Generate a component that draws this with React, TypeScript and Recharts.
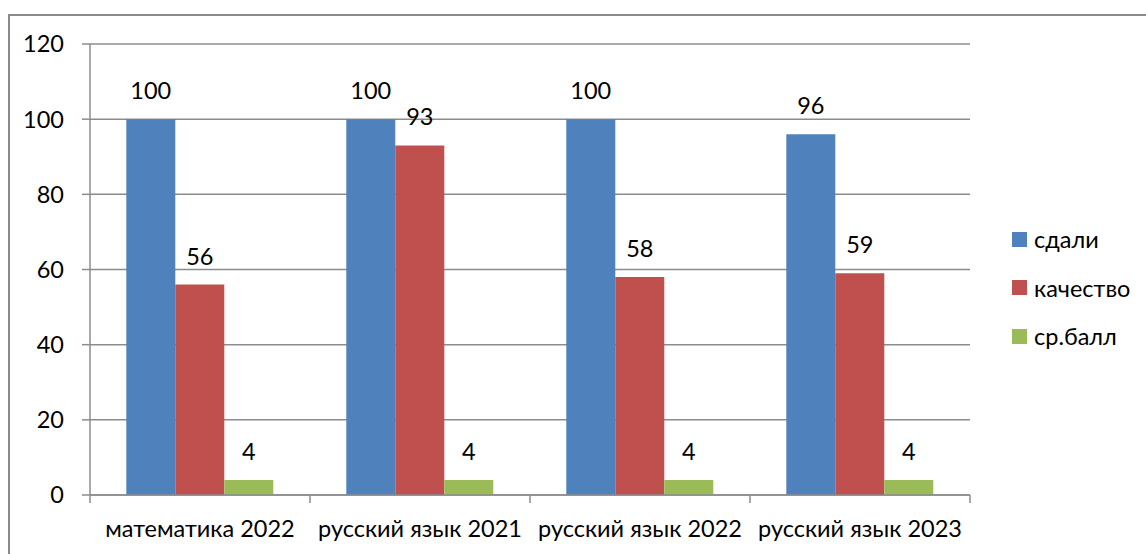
import React from "react";
import { BarChart, Bar, XAxis, YAxis, CartesianGrid, LabelList } from "recharts";

const CATEGORIES = ["математика 2022", "русский язык 2021", "русский язык 2022", "русский язык 2023"];
const PASSED = [100, 100, 100, 96];
const QUALITY = [56, 93, 58, 59];
const AVG = [4, 4, 4, 4];
const Y_TICKS = [0, 20, 40, 60, 80, 100, 120];

const SERIES = [
  { key: "passed", name: "сдали", color: "#4F81BD" },
  { key: "quality", name: "качество", color: "#C0504D" },
  { key: "avg", name: "ср.балл", color: "#9BBB59" },
];

const data = CATEGORIES.map((c, i) => ({ cat: c, passed: PASSED[i], quality: QUALITY[i], avg: AVG[i] }));

const FONT = "Lato, 'Open Sans', sans-serif";
const FS = 23.5;
const GRID = "#8C8C8C";
const TICK_SIZE = 8;
const TICK_MARGIN = 17;

// category label + tick marks on the category boundaries (Excel style)
function CatTick(props: any) {
  const { x, y, payload, index, visibleTicksCount } = props;
  const half = payload?.offset ?? 0;
  const ay = y - TICK_SIZE - TICK_MARGIN;
  return (
    <g>
      <line x1={x - half} x2={x - half} y1={ay} y2={ay + TICK_SIZE} stroke={GRID} strokeWidth={1.5} />
      {index === visibleTicksCount - 1 && (
        <line x1={x + half} x2={x + half} y1={ay} y2={ay + TICK_SIZE} stroke={GRID} strokeWidth={1.5} />
      )}
      <text x={x} y={y} dy="0.71em" textAnchor="middle" fill="#000" fontSize={FS} fontFamily={FONT}>
        {payload.value}
      </text>
    </g>
  );
}

function LegendBox() {
  return (
    <div style={{ position: "absolute", left: 1012, top: 215, fontFamily: FONT, fontSize: FS, color: "#000" }}>
      {SERIES.map((s) => (
        <div key={s.key} style={{ display: "flex", alignItems: "center", height: 48.5 }}>
          <span style={{ width: 15, height: 15, background: s.color, marginRight: 7, display: "inline-block" }} />
          <span>{s.name}</span>
        </div>
      ))}
    </div>
  );
}

export default function App() {
  return (
    <div style={{ position: "absolute", left: 0, top: 0, width: 1146, height: 554, background: "#fff", fontFamily: FONT }}>
      <div style={{ position: "absolute", left: 8, top: 14, right: 0, bottom: 0, borderTop: "2px solid #8a8a8a", borderLeft: "2px solid #8a8a8a" }} />
      <BarChart
        width={1146}
        height={554}
        data={data}
        margin={{ top: 44, right: 176, bottom: 0, left: 0 }}
        barCategoryGap="16.5%"
        barGap={0}
        style={{ position: "absolute", left: 0, top: 0 }}
      >
        <CartesianGrid vertical={false} stroke={GRID} strokeWidth={1.5} />
        <XAxis
          dataKey="cat"
          height={59}
          axisLine={{ stroke: GRID, strokeWidth: 1.5 }}
          tickLine={false}
          tickSize={TICK_SIZE}
          tickMargin={TICK_MARGIN}
          tick={<CatTick />}
          interval={0}
        />
        <YAxis
          width={90}
          domain={[0, 120]}
          ticks={Y_TICKS}
          axisLine={{ stroke: GRID, strokeWidth: 1.5 }}
          tickLine={{ stroke: GRID, strokeWidth: 1.5 }}
          tickSize={8}
          tickMargin={18}
          tick={{ fill: "#000", fontSize: FS, fontFamily: FONT }}
        />
        {SERIES.map((s) => (
          <Bar key={s.key} dataKey={s.key} name={s.name} fill={s.color} isAnimationActive={false}>
            <LabelList dataKey={s.key} position="top" offset={20} style={{ fill: "#000", fontSize: FS, fontFamily: FONT }} />
          </Bar>
        ))}
      </BarChart>
      <LegendBox />
    </div>
  );
}
